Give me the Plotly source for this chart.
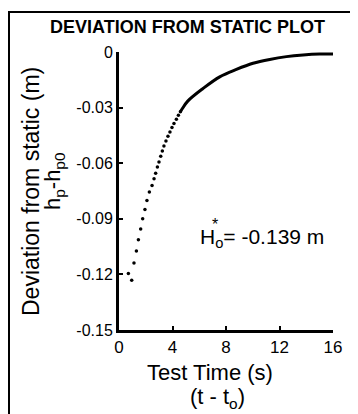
import plotly.graph_objects as go

# ---- data ----
dot_t = [0.70, 0.95, 1.12, 1.30, 1.45, 1.62, 1.77, 1.94, 2.09, 2.27, 2.47, 2.62,
         2.74, 2.87, 2.99, 3.12, 3.24, 3.36, 3.51, 3.66, 3.81, 3.96, 4.11, 4.29,
         4.44, 4.59]
dot_h = [-0.1195, -0.1231, -0.1139, -0.1074, -0.1013, -0.0955, -0.0900, -0.0850,
         -0.0801, -0.0756, -0.0720, -0.0684, -0.0654, -0.0621, -0.0594, -0.0563,
         -0.0534, -0.0507, -0.0480, -0.0455, -0.0432, -0.0408, -0.0386, -0.0363,
         -0.0341, -0.0323]
line_t = [4.59, 4.74, 5.14, 6.28, 7.53, 8.78, 10.02, 11.27, 12.52, 13.76, 15.0, 16.0]
line_h = [-0.0323, -0.0305, -0.0265, -0.0197, -0.0134, -0.0094, -0.0061, -0.0040,
          -0.0025, -0.0016, -0.0011, -0.0011]
x_ticks = [0, 4, 8, 12, 16]
y_ticks = [0, -0.03, -0.06, -0.09, -0.12, -0.15]
y_tick_text = ["0", "-0.03", "-0.06", "-0.09", "-0.12", "-0.15"]
h0_text = "H<sub>o</sub>= -0.139 m"

# page offset (browser body margin)
O = 8
W, H = 358 - O, 414 - O
L, R, T, B = 119 - O, 25, 52 - O, 84
PW, PH = W - L - R, H - T - B


def px(x):
    return (x - O - L) / PW


def py(y):
    return 1 - (y - O - T) / PH


FONT = "Liberation Sans, Arial, Helvetica, sans-serif"

fig = go.Figure()
fig.add_trace(go.Scatter(x=dot_t, y=dot_h, mode="markers",
                         marker=dict(size=3.5, color="black"),
                         showlegend=False, hoverinfo="skip"))
fig.add_trace(go.Scatter(x=line_t, y=line_h, mode="lines",
                         line=dict(color="black", width=3, shape="spline"),
                         showlegend=False, hoverinfo="skip"))

fig.update_layout(
    width=W, height=H,
    margin=dict(l=L, r=R, t=T, b=B, pad=0),
    paper_bgcolor="white", plot_bgcolor="white",
    font=dict(family=FONT, color="black"),
    xaxis=dict(range=[0, 16], tickvals=x_ticks, ticks="inside", ticklen=4,
               tickwidth=2, tickcolor="black", showline=True, linewidth=3,
               linecolor="black", showgrid=False, zeroline=False,
               tickfont=dict(size=17, family=FONT)),
    yaxis=dict(range=[-0.15, 0], tickvals=y_ticks, ticktext=y_tick_text,
               ticks="inside", ticklen=4, tickwidth=2, tickcolor="black",
               showline=True, linewidth=3, linecolor="black", showgrid=False,
               zeroline=False, tickfont=dict(size=16, family=FONT)),
    shapes=[dict(type="rect", xref="paper", yref="paper",
                 x0=px(9), x1=px(364), y0=py(12), y1=py(430),
                 line=dict(color="black", width=2), layer="below")],
)

ann = [
    dict(text="<b>DEVIATION FROM STATIC PLOT</b>", x=px(187), y=py(27),
         font=dict(size=18)),
    dict(text="Deviation from static (m)", x=px(31), y=py(192),
         textangle=-90, font=dict(size=23)),
    dict(text="h<sub>p</sub>-h<sub>p0</sub>", x=px(54), y=py(181),
         textangle=-90, font=dict(size=22)),
    dict(text="Test Time (s)", x=px(210), y=py(372), font=dict(size=22)),
    dict(text="(t - t<sub>o</sub>)", x=px(217), y=py(398), font=dict(size=22)),
    dict(text=h0_text, x=px(262), y=py(238), font=dict(size=21)),
    dict(text="*", x=px(215), y=py(224), font=dict(size=16)),
]
for a in ann:
    a.update(xref="paper", yref="paper", showarrow=False,
             xanchor="center", yanchor="middle")
    fig.add_annotation(**a)

fig.write_html("out.html")
